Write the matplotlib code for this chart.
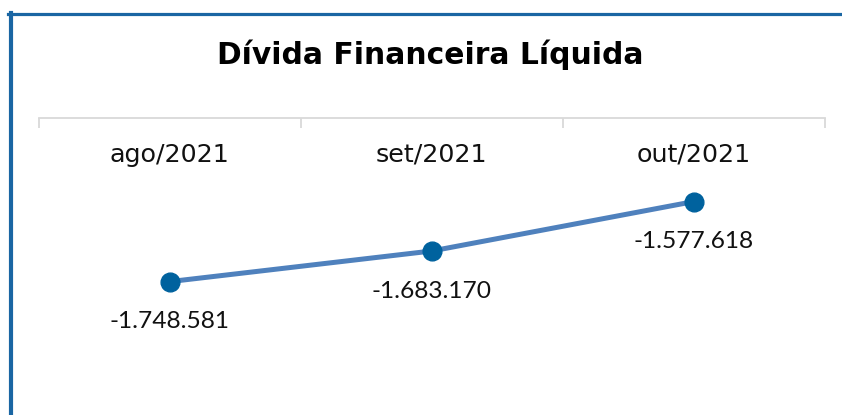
import matplotlib
matplotlib.use("Agg")
import matplotlib.pyplot as plt
from matplotlib.lines import Line2D
from matplotlib.transforms import blended_transform_factory

categories = ["ago/2021", "set/2021", "out/2021"]
values = [-1748581, -1683170, -1577618]
value_labels = ["-1.748.581", "-1.683.170", "-1.577.618"]
title = "Dívida Financeira Líquida"

W, H, DPI = 842, 415, 100
fig = plt.figure(figsize=(W / DPI, H / DPI), dpi=DPI)
fig.patch.set_facecolor("white")
renderer = fig.canvas.get_renderer()


def fitted_size(text, family, target_px, weight="normal"):
    """font size at which `text` renders target_px wide"""
    t = fig.text(0, 0, text, fontsize=20, family=family, fontweight=weight)
    w = t.get_window_extent(renderer).width
    t.remove()
    return 20 * target_px / w


# axes placement (pixels)
left_px, right_px = 38.5, 824.5
top_px, bot_px = 118.5, 399.3
ax = fig.add_axes([left_px / W, 1 - bot_px / H, (right_px - left_px) / W, (bot_px - top_px) / H])
ax.set_xlim(-0.5, len(categories) - 0.5)
ax.set_ylim(-2.0e6, -1.4e6)

line_color = "#4F81BD"
marker_color = "#00629E"
x = list(range(len(categories)))
ax.plot(x, values, color=line_color, lw=3.6, solid_capstyle="round", zorder=2)
ax.plot(x, values, ls="none", marker="o", ms=13.5, mfc=marker_color, mec=marker_color, zorder=3)

num_font = "Lato"
num_size = fitted_size(value_labels[0], num_font, 120)
for xi, v, lab in zip(x, values, value_labels):
    ax.annotate(lab, (xi, v), xytext=(0, -29), textcoords="offset points",
                ha="center", va="center", fontsize=num_size, family=num_font, color="#111111")

# category axis at top with boundary ticks pointing down
for s in ["left", "right", "bottom"]:
    ax.spines[s].set_visible(False)
ax.spines["top"].set_color("#D9D9D9")
ax.spines["top"].set_linewidth(1.3)
ax.set_yticks([])
ax.xaxis.set_ticks_position("top")
ax.set_xticks([i - 0.5 for i in range(len(categories) + 1)])
ax.set_xticklabels([])
ax.tick_params(axis="x", direction="in", length=7, width=1.3, color="#D9D9D9")
ax.patch.set_alpha(0)

cat_font = "DejaVu Sans"
cat_size = fitted_size(categories[0], cat_font, 120)
trans = blended_transform_factory(ax.transData, fig.transFigure)
for xi, c in zip(x, categories):
    ax.text(xi, 1 - 155 / H, c, transform=trans, ha="center", va="center",
            fontsize=cat_size, family=cat_font, color="#111111")

title_size = fitted_size(title, "DejaVu Sans", 425, weight="bold")
fig.text(430.5 / W, 1 - 55 / H, title, ha="center", va="center",
         fontsize=title_size, fontweight="bold", family="DejaVu Sans", color="#000000")

border = "#1A66A3"
fig.add_artist(Line2D([8 / W, 1.0], [1 - 14.5 / H, 1 - 14.5 / H], color=border, lw=2.3,
                      transform=fig.transFigure))
fig.add_artist(Line2D([10.7 / W, 10.7 / W], [1 - 13.5 / H, 0], color=border, lw=3.0,
                      transform=fig.transFigure))

fig.savefig("out.png", dpi=DPI)
